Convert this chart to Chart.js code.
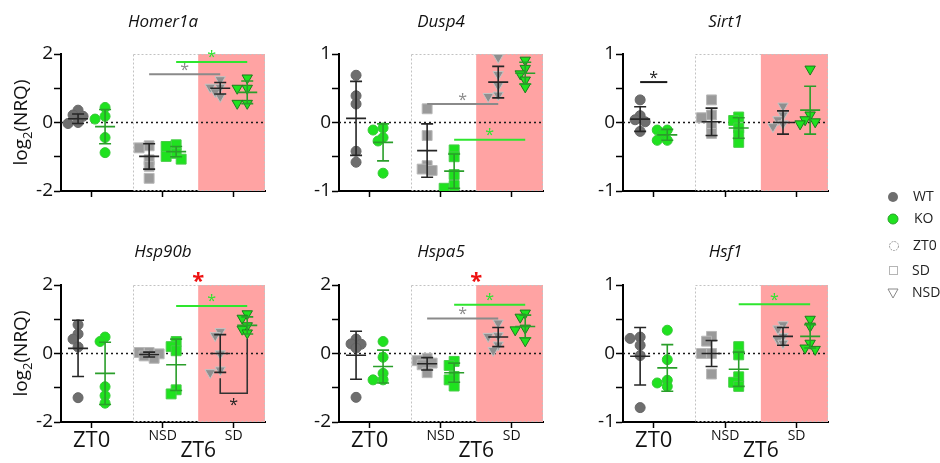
<!DOCTYPE html>
<html>
<head>
<meta charset="utf-8">
<script src="https://cdn.jsdelivr.net/npm/chart.js@4.4.1/dist/chart.umd.min.js"></script>
<style>
  html, body { margin: 0; padding: 0; background: #fff; }
  #wrap { position: relative; width: 940px; height: 463px; overflow: hidden; }
  #wrap canvas { position: absolute; }
</style>
</head>
<body>
<div id="wrap">
  <canvas id="homer1a" width="290" height="230" style="left:0;top:0"></canvas>
  <canvas id="dusp4" width="290" height="230" style="left:290px;top:0"></canvas>
  <canvas id="sirt1" width="270" height="230" style="left:580px;top:0"></canvas>
  <canvas id="hsp90b" width="290" height="233" style="left:0;top:230px"></canvas>
  <canvas id="hspa5" width="290" height="233" style="left:290px;top:230px"></canvas>
  <canvas id="hsf1" width="270" height="233" style="left:580px;top:230px"></canvas>
  <canvas id="legend" width="90" height="140" style="left:850px;top:180px"></canvas>
</div>
<script>
Chart.defaults.font.family = "'Open Sans', sans-serif";
Chart.defaults.color = '#111';

// groups: WT ZT0, KO ZT0, WT NSD, KO NSD, WT SD, KO SD
const groupX = [0.81, 1.19, 1.81, 2.19, 2.81, 3.19];
const xTicks = [1, 2, 3];
const xLabels = ['ZT0', 'NSD', 'SD'];

// log2(NRQ) per animal, mean and SD per group
const homer1aPoints = [
  [0.36, 0.22, 0.18, 0.0, -0.03],
  [0.44, 0.18, 0.1, -0.44, -0.88],
  [-0.68, -0.74, -1.09, -1.28, -1.63],
  [-0.65, -0.7, -0.9, -0.99, -1.07],
  [1.25, 1.03, 1.03, 0.9, 0.76],
  [1.3, 1.0, 1.0, 0.56, 0.56]
];
const homer1aMean = [0.11, -0.12, -0.99, -0.85, 1.0, 0.88];
const homer1aSd = [0.14, 0.5, 0.37, 0.15, 0.17, 0.33];
const homer1aSig = [[2, 4, 1.41, 'WT'], [3, 5, 1.77, 'KO']];

const dusp4Points = [
  [0.69, 0.39, 0.27, -0.42, -0.58],
  [-0.08, -0.11, -0.22, -0.27, -0.74],
  [0.2, -0.19, -0.63, -0.68, -0.7],
  [-0.4, -0.5, -0.76, -0.92, -0.96],
  [0.95, 0.7, 0.54, 0.4, 0.38],
  [0.91, 0.79, 0.71, 0.62, 0.52]
];
const dusp4Mean = [0.06, -0.29, -0.41, -0.71, 0.59, 0.72];
const dusp4Sd = [0.54, 0.27, 0.39, 0.25, 0.23, 0.16];
const dusp4Sig = [[2, 4, 0.27, 'WT'], [3, 5, -0.25, 'KO']];

const sirt1Points = [
  [0.33, 0.1, 0.04, 0.01, -0.13],
  [-0.11, -0.11, -0.18, -0.26, -0.26],
  [0.33, 0.11, 0.07, -0.06, -0.16],
  [0.08, 0.03, -0.08, -0.18, -0.29],
  [0.24, 0.11, 0.04, -0.02, -0.06],
  [0.78, 0.11, 0.04, 0.01, -0.02]
];
const sirt1Mean = [0.05, -0.18, 0.01, -0.08, 0.0, 0.18];
const sirt1Sd = [0.18, 0.08, 0.2, 0.15, 0.17, 0.35];
const sirt1Sig = [[0, 1, 0.59, 'both']];

const hsp90bPoints = [
  [0.84, 0.57, 0.42, 0.19, -1.29],
  [0.48, 0.35, -0.97, -1.23, -1.45],
  [0.03, 0.03, -0.01, -0.07, -0.14],
  [0.35, 0.2, 0.08, -1.06, -1.18],
  [0.64, 0.52, -0.01, -0.48, -0.56],
  [1.16, 1.03, 0.81, 0.71, 0.6]
];
const hsp90bMean = [0.15, -0.58, -0.03, -0.33, 0.0, 0.82];
const hsp90bSd = [0.82, 0.91, 0.07, 0.75, 0.55, 0.25];
const hsp90bSig = [[3, 5, 1.39, 'KO']];
// [from group, to group, bottom, left leg top, right leg top]
const hsp90bBracket = [4, 5, -1.16, -0.72, 0.42];

const hspa5Points = [
  [0.42, 0.28, 0.27, 0.16, -1.28],
  [0.35, -0.11, -0.58, -0.77, -0.77],
  [-0.14, -0.21, -0.28, -0.33, -0.56],
  [-0.23, -0.35, -0.67, -0.77, -0.95],
  [0.89, 0.52, 0.5, 0.25, 0.09],
  [1.18, 1.06, 0.74, 0.69, 0.37]
];
const hspa5Mean = [-0.05, -0.38, -0.3, -0.56, 0.48, 0.79];
const hspa5Sd = [0.7, 0.48, 0.18, 0.28, 0.28, 0.33];
const hspa5Sig = [[2, 4, 1.02, 'WT'], [3, 5, 1.42, 'KO']];

const hsf1Points = [
  [0.24, 0.22, 0.12, -0.03, -0.79],
  [0.34, -0.09, -0.39, -0.43, -0.48],
  [0.25, 0.18, 0.0, 0.0, -0.3],
  [0.1, -0.02, -0.34, -0.42, -0.48],
  [0.42, 0.36, 0.25, 0.2, 0.15],
  [0.5, 0.4, 0.15, 0.08, 0.06]
];
const hsf1Mean = [-0.04, -0.21, 0.0, -0.23, 0.25, 0.25];
const hsf1Sd = [0.42, 0.34, 0.19, 0.25, 0.13, 0.17];
const hsf1Sig = [[3, 5, 0.72, 'KO']];

const PINK = '#ffa3a3';
const WT_BAR = '#262626';
const KO_BAR = '#2a9e2a';
const sigColors = { WT: '#8a8a8a', KO: '#2ee62e', both: '#1a1a1a' };

const groupStyle = [
  { shape: 'circle', r: 5, fill: '#6e6e6e', line: '#666666', rot: 0 },
  { shape: 'circle', r: 5, fill: '#1fe21f', line: '#36c836', rot: 0 },
  { shape: 'rect', r: 7, fill: '#9a9a9a', line: '#b8b8b8', rot: 0 },
  { shape: 'rect', r: 7, fill: '#1fe21f', line: '#47cc47', rot: 0 },
  { shape: 'triangle', r: 6, fill: '#8e8e8e', line: '#c4c4c4', rot: 180 },
  { shape: 'triangle', r: 6, fill: '#1fe21f', line: '#1c7c1c', rot: 180 }
];

// nudge overlapping points sideways (small beeswarm, in pixels)
function swarm(vals, cx, ySpan) {
  const pxX = 71, pxY = 137 / ySpan, gap = 6;
  const placed = [];
  return vals.map(v => {
    const py = v * pxY;
    let ox = 0;
    for (const k of [0, -1, 1, -2, 2]) {
      const tx = k * 5;
      if (placed.every(p => Math.hypot(p.x - tx, p.y - py) >= gap)) { ox = tx; break; }
    }
    placed.push({ x: ox, y: py });
    return { x: cx + ox / pxX, y: v };
  });
}

function buildDatasets(points, ySpan) {
  return points.map((vals, g) => {
    const st = groupStyle[g];
    return {
      data: swarm(vals, groupX[g], ySpan),
      pointStyle: st.shape,
      pointRadius: st.r,
      pointRotation: st.rot,
      backgroundColor: st.fill,
      borderColor: st.line,
      borderWidth: 1,
      showLine: false
    };
  });
}

const panelDecor = {
  id: 'panelDecor',
  beforeDatasetsDraw(chart, args, o) {
    const { ctx, chartArea: a, scales: { x, y } } = chart;
    const bx = x.getPixelForValue(1.58);
    const px = x.getPixelForValue(2.5);
    ctx.save();
    ctx.fillStyle = PINK;
    ctx.fillRect(px, a.top, a.right - px, a.bottom - a.top);
    ctx.strokeStyle = '#c2c2c2';
    ctx.lineWidth = 1;
    ctx.setLineDash([2, 2]);
    ctx.strokeRect(Math.round(bx) + 0.5, a.top + 0.5, a.right - Math.round(bx) - 1, a.bottom - a.top - 1);
    // zero line
    ctx.strokeStyle = '#1a1a1a';
    ctx.lineWidth = 1.5;
    ctx.setLineDash([2, 3]);
    const y0 = y.getPixelForValue(0);
    ctx.beginPath();
    ctx.moveTo(a.left, y0);
    ctx.lineTo(a.right, y0);
    ctx.stroke();
    ctx.restore();
  },
  afterDatasetsDraw(chart, args, o) {
    const { ctx, chartArea: a, scales: { x, y } } = chart;
    ctx.save();
    ctx.setLineDash([]);
    // mean +/- SD
    o.mean.forEach((m, g) => {
      const cx = x.getPixelForValue(groupX[g]);
      const top = y.getPixelForValue(m + o.sd[g]);
      const bot = y.getPixelForValue(m - o.sd[g]);
      const my = y.getPixelForValue(m);
      ctx.strokeStyle = g % 2 === 0 ? WT_BAR : KO_BAR;
      ctx.lineWidth = 1.6;
      ctx.beginPath();
      ctx.moveTo(cx, top); ctx.lineTo(cx, bot);
      ctx.moveTo(cx - 6, top); ctx.lineTo(cx + 6, top);
      ctx.moveTo(cx - 6, bot); ctx.lineTo(cx + 6, bot);
      ctx.moveTo(cx - 10, my); ctx.lineTo(cx + 10, my);
      ctx.stroke();
    });
    // significance lines
    ctx.textAlign = 'center';
    ctx.textBaseline = 'middle';
    o.sig.forEach(([g1, g2, v, kind]) => {
      const c = sigColors[kind];
      const x1 = x.getPixelForValue(groupX[g1]);
      const x2 = x.getPixelForValue(groupX[g2]);
      const ly = y.getPixelForValue(v);
      ctx.strokeStyle = c;
      ctx.lineWidth = 2;
      ctx.beginPath();
      ctx.moveTo(x1, ly); ctx.lineTo(x2, ly);
      ctx.stroke();
      ctx.fillStyle = c;
      ctx.font = "16px 'Open Sans'";
      ctx.fillText('*', (x1 + x2) / 2, ly - 4);
    });
    if (o.bracket) {
      const [g1, g2, vb, v1, v2] = o.bracket;
      const x1 = x.getPixelForValue(groupX[g1]);
      const x2 = x.getPixelForValue(groupX[g2]);
      const yb = y.getPixelForValue(vb);
      ctx.strokeStyle = '#333';
      ctx.lineWidth = 1.6;
      ctx.beginPath();
      ctx.moveTo(x1, y.getPixelForValue(v1));
      ctx.lineTo(x1, yb);
      ctx.lineTo(x2, yb);
      ctx.lineTo(x2, y.getPixelForValue(v2));
      ctx.stroke();
      ctx.fillStyle = '#222';
      ctx.font = "16px 'Open Sans'";
      ctx.fillText('*', (x1 + x2) / 2, yb + 12);
    }
    if (o.redStar) {
      ctx.fillStyle = '#ee1111';
      ctx.font = "bold 22px 'Open Sans'";
      ctx.fillText('*', x.getPixelForValue(2.5), a.top - 3);
    }
    // gene name
    ctx.fillStyle = '#111';
    ctx.font = "italic 17px 'Open Sans'";
    ctx.fillText(o.title, (a.left + a.right) / 2, 22);
    if (o.zt6) {
      ctx.font = "21px 'Open Sans'";
      ctx.fillText('ZT6', x.getPixelForValue(2.5), chart.height - 12);
    }
    if (o.yTitle) {
      ctx.translate(22, (a.top + a.bottom) / 2);
      ctx.rotate(-Math.PI / 2);
      ctx.textAlign = 'left';
      ctx.font = "19px 'Open Sans'";
      const w1 = ctx.measureText('log').width;
      const w3 = ctx.measureText('(NRQ)').width;
      ctx.font = "13px 'Open Sans'";
      const w2 = ctx.measureText('2').width;
      const start = -(w1 + w2 + w3) / 2;
      ctx.font = "19px 'Open Sans'";
      ctx.fillText('log', start, 0);
      ctx.fillText('(NRQ)', start + w1 + w2, 0);
      ctx.font = "13px 'Open Sans'";
      ctx.fillText('2', start + w1, 6);
    }
    ctx.restore();
  }
};

function makePanel(id, p) {
  const ySpan = p.yMax - p.yMin;
  const yTicks = ySpan === 4 ? [-2, -1, 0, 1, 2] : [-1, -0.5, 0, 0.5, 1];
  new Chart(document.getElementById(id), {
    type: 'scatter',
    data: { datasets: buildDatasets(p.points, ySpan) },
    options: {
      responsive: false,
      animation: false,
      layout: { padding: { top: p.padTop, right: p.padRight, left: 0, bottom: 0 } },
      plugins: {
        legend: { display: false },
        tooltip: { enabled: false },
        panelDecor: {
          title: p.title, mean: p.mean, sd: p.sd, sig: p.sig,
          bracket: p.bracket, redStar: p.redStar, zt6: p.bottom, yTitle: p.yTitle
        }
      },
      scales: {
        x: {
          type: 'linear',
          min: 0.57, max: 3.44,
          afterBuildTicks: s => { s.ticks = xTicks.map(v => ({ value: v })); },
          afterFit: s => { s.height = p.xHeight; },
          grid: { drawOnChartArea: false, drawTicks: true, tickLength: 6, tickColor: '#000', tickWidth: 1.5 },
          border: { color: '#000', width: 2 },
          ticks: {
            display: p.bottom,
            padding: 0,
            color: '#111',
            maxRotation: 0,
            autoSkip: false,
            callback: (v, i) => xLabels[i],
            font: c => (c.index === 0 ? { size: 22 } : { size: 14 })
          }
        },
        y: {
          min: p.yMin, max: p.yMax,
          afterBuildTicks: s => { s.ticks = yTicks.map(v => ({ value: v })); },
          afterFit: s => { s.width = p.yWidth; },
          grid: { drawOnChartArea: false, drawTicks: true, tickLength: 7, tickColor: '#000', tickWidth: 1.5 },
          border: { color: '#000', width: 2 },
          ticks: {
            padding: 1,
            color: '#111',
            font: { size: 19 },
            callback: v => (Number.isInteger(v) && (ySpan === 2 || v % 2 === 0) ? String(v) : '')
          }
        }
      }
    },
    plugins: [panelDecor]
  });
}

const topRow = { padTop: 54, xHeight: 39, bottom: false };
const botRow = { padTop: 55, xHeight: 41, bottom: true };

makePanel('homer1a', Object.assign({}, topRow, {
  title: 'Homer1a', yMin: -2, yMax: 2, yWidth: 61, padRight: 25, yTitle: true,
  points: homer1aPoints, mean: homer1aMean, sd: homer1aSd, sig: homer1aSig
}));
makePanel('dusp4', Object.assign({}, topRow, {
  title: 'Dusp4', yMin: -1, yMax: 1, yWidth: 49, padRight: 37,
  points: dusp4Points, mean: dusp4Mean, sd: dusp4Sd, sig: dusp4Sig
}));
makePanel('sirt1', Object.assign({}, topRow, {
  title: 'Sirt1', yMin: -1, yMax: 1, yWidth: 43, padRight: 22,
  points: sirt1Points, mean: sirt1Mean, sd: sirt1Sd, sig: sirt1Sig
}));
makePanel('hsp90b', Object.assign({}, botRow, {
  title: 'Hsp90b', yMin: -2, yMax: 2, yWidth: 61, padRight: 25, yTitle: true, redStar: true,
  points: hsp90bPoints, mean: hsp90bMean, sd: hsp90bSd, sig: hsp90bSig, bracket: hsp90bBracket
}));
makePanel('hspa5', Object.assign({}, botRow, {
  title: 'Hspa5', yMin: -2, yMax: 2, yWidth: 49, padRight: 37, redStar: true,
  points: hspa5Points, mean: hspa5Mean, sd: hspa5Sd, sig: hspa5Sig
}));
makePanel('hsf1', Object.assign({}, botRow, {
  title: 'Hsf1', yMin: -1, yMax: 1, yWidth: 43, padRight: 22,
  points: hsf1Points, mean: hsf1Mean, sd: hsf1Sd, sig: hsf1Sig
}));

// key on the right (canvas origin at 850,180)
(function drawKey() {
  const ctx = document.getElementById('legend').getContext('2d');
  const mx = 43, tx = 63;
  const rows = [17, 39, 66, 91, 113];
  ctx.font = "14px 'Open Sans'";
  ctx.textBaseline = 'middle';
  ctx.lineWidth = 1;

  ctx.beginPath(); ctx.arc(mx, rows[0], 5, 0, Math.PI * 2);
  ctx.fillStyle = '#6e6e6e'; ctx.fill();
  ctx.beginPath(); ctx.arc(mx, rows[1], 5, 0, Math.PI * 2);
  ctx.fillStyle = '#1fe21f'; ctx.fill(); ctx.strokeStyle = '#2a9e2a'; ctx.stroke();
  ctx.beginPath(); ctx.arc(mx + 1, rows[2], 4.5, 0, Math.PI * 2);
  ctx.strokeStyle = '#9a9a9a'; ctx.setLineDash([2, 1]); ctx.stroke(); ctx.setLineDash([]);
  ctx.strokeStyle = '#b5b5b5'; ctx.strokeRect(mx - 3.5, rows[3] - 4.5, 8, 8);
  ctx.beginPath();
  ctx.moveTo(mx - 5, rows[4] - 4); ctx.lineTo(mx + 5, rows[4] - 4); ctx.lineTo(mx, rows[4] + 5);
  ctx.closePath();
  ctx.strokeStyle = '#888'; ctx.stroke();

  ctx.fillStyle = '#222';
  ctx.fillText('WT', tx, rows[0]);
  ctx.fillText('KO', tx + 1, rows[1]);
  ctx.fillText('ZT0', tx, rows[2]);
  ctx.fillText('SD', tx - 1, rows[3]);
  ctx.fillText('NSD', tx - 1, rows[4]);
})();
</script>
</body>
</html>
